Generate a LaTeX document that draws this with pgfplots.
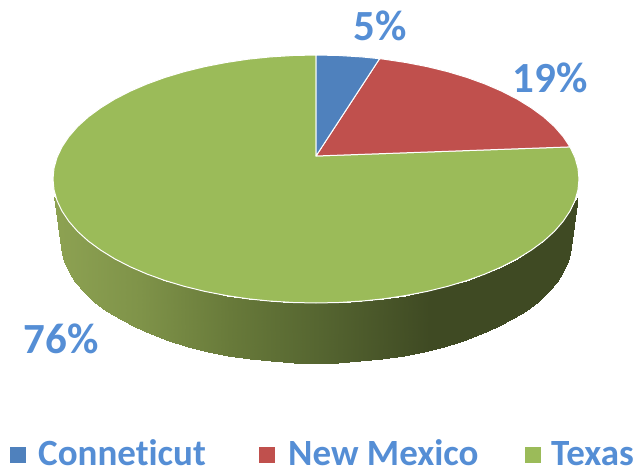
\documentclass[border=0pt]{standalone}
\usepackage{fontspec}
\setmainfont[Ligatures=NoCommon]{Carlito}
\usepackage{pgfplots}
\pgfplotsset{compat=1.18}

\definecolor{pieblue}{RGB}{79,129,189}
\definecolor{piered}{RGB}{192,80,77}
\definecolor{piegreen}{RGB}{155,187,89}
\definecolor{labelblue}{RGB}{85,142,213}

\pgfplotsset{
  colormap={sideshade}{rgb255(0)=(141,162,82) rgb255(85)=(127,147,73) rgb255(175)=(104,122,58) rgb255(261)=(86,102,49) rgb255(375)=(63,74,35) rgb255(522)=(63,74,35)},
}

\newcommand{\lab}[1]{\fontsize{43}{43}\selectfont\bfseries\textcolor{labelblue}{#1}}
\newcommand{\leg}[1]{\fontsize{37}{37}\selectfont\bfseries\textcolor{labelblue}{#1}}

\begin{document}
\begin{tikzpicture}
\begin{axis}[
    at={(0,0)}, anchor=south west,
    scale only axis,
    width=641pt, height=469pt,
    xmin=0, xmax=641,
    ymin=0, ymax=469,
    y dir=reverse,
    hide axis,
    clip=false,
]
% side wall: upper edge then lower edge, left to right
\addplot[surf, shader=interp, mesh/rows=2, point meta=x, point meta min=55, point meta max=577] table {
x y
54.5 197
57 200.5
62 211.1
68.9 221.4
77.6 231.4
88.2 241
100.6 250.1
114.5 258.7
130 266.7
146.9 274
165.1 280.6
184.5 286.4
204.9 291.4
226.1 295.5
247.9 298.8
270.3 301.1
293.1 302.5
316 303
338.9 302.5
361.7 301.1
384.1 298.8
405.9 295.5
427.1 291.4
447.5 286.4
466.9 280.6
485.1 274
502 266.7
517.5 258.7
531.4 250.1
543.8 241
554.4 231.4
563.1 221.4
570 211.1
575 200.5
577.5 197
62 254
63.9 261.4
68.7 271.8
75.4 282.1
84 292
94.3 301.5
106.3 310.6
119.9 319.1
135 327
151.4 334.2
169.2 340.8
188 346.5
207.8 351.5
228.4 355.6
249.7 358.8
271.5 361.1
293.7 362.5
316 363
338.3 362.5
360.5 361.1
382.3 358.8
403.6 355.6
424.2 351.5
444 346.5
462.8 340.8
480.6 334.2
497 327
512.1 319.1
525.7 310.6
537.7 301.5
548 292
556.6 282.1
563.3 271.8
568.1 261.4
570 254
};
% Texas
\addplot[fill=piegreen, draw=white, line width=1pt, line join=round] coordinates {
(316,156) (570,146.9) (575,157.5) (578,168.2) (579,179) (578,189.8) (575,200.5)
(570,211.1) (563.1,221.4) (554.4,231.4) (543.8,241) (531.4,250.1) (517.5,258.7)
(502,266.7) (485.1,274) (466.9,280.6) (447.5,286.4) (427.1,291.4) (405.9,295.5)
(384.1,298.8) (361.7,301.1) (338.9,302.5) (316,303) (293.1,302.5) (270.3,301.1)
(247.9,298.8) (226.1,295.5) (204.9,291.4) (184.5,286.4) (165.1,280.6) (146.9,274)
(130,266.7) (114.5,258.7) (100.6,250.1) (88.2,241) (77.6,231.4) (68.9,221.4)
(62,211.1) (57,200.5) (54,189.8) (53,179) (54,168.2) (57,157.5) (62,146.9)
(68.9,136.6) (77.6,126.6) (88.2,117) (100.6,107.9) (114.5,99.3) (130,91.3)
(146.9,84) (165.1,77.4) (184.5,71.6) (204.9,66.6) (226.1,62.5) (247.9,59.2)
(270.3,56.9) (293.1,55.5) (316,55) (316,156)
} -- cycle;
% New Mexico
\addplot[fill=piered, draw=white, line width=1pt, line join=round] coordinates {
(316,156) (379.6,58.7) (384.1,59.2) (405.9,62.5) (427.1,66.6) (447.5,71.6)
(466.9,77.4) (485.1,84) (502,91.3) (517.5,99.3) (531.4,107.9) (543.8,117)
(554.4,126.6) (563.1,136.6) (570,146.9) (316,156)
} -- cycle;
% Conneticut
\addplot[fill=pieblue, draw=white, line width=1pt, line join=round] coordinates {
(316,156) (316,55) (338.9,55.5) (361.7,56.9) (379.6,58.7) (316,156)
} -- cycle;
% legend keys
\addplot[only marks, mark=square*, mark size=7.5pt, mark options={draw=pieblue, fill=pieblue}] coordinates {(17.5,455)};
\addplot[only marks, mark=square*, mark size=7.5pt, mark options={draw=piered, fill=piered}] coordinates {(267,455)};
\addplot[only marks, mark=square*, mark size=7.5pt, mark options={draw=piegreen, fill=piegreen}] coordinates {(532.5,455)};

\node[inner sep=0pt] at (axis cs:380,26) {\lab{5\%}};
\node[inner sep=0pt] at (axis cs:550,78) {\lab{19\%}};
\node[inner sep=0pt] at (axis cs:61,339) {\lab{76\%}};
\node[inner sep=0pt, anchor=base west] at (axis cs:38,465.5) {\leg{Conneticut}};
\node[inner sep=0pt, anchor=base west] at (axis cs:288,465.5) {\leg{New Mexico}};
\node[inner sep=0pt, anchor=base west] at (axis cs:551,465.5) {\leg{Texas}};
\end{axis}
\pgfresetboundingbox
\path (0,0) rectangle (641pt,469pt);
\end{tikzpicture}
\end{document}
